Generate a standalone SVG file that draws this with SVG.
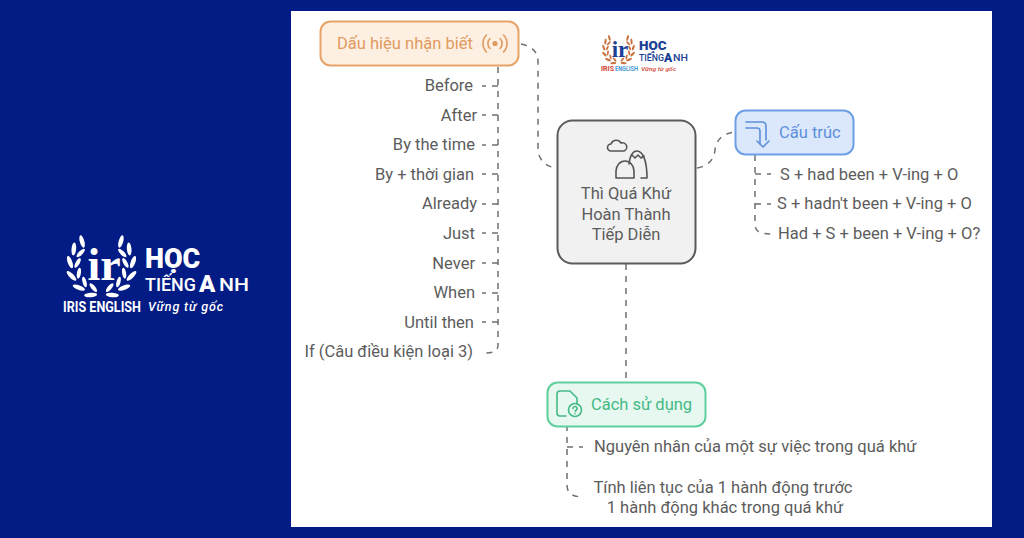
<svg xmlns="http://www.w3.org/2000/svg" width="1024" height="538" viewBox="0 0 1024 538">
<style>
text{font-family:Roboto,"Liberation Sans",sans-serif}
.t{font-size:16.5px;fill:#5c5c5c}
.e{text-anchor:end}
.m{text-anchor:middle}
.c{fill:none;stroke:#6f6f6f;stroke-width:1.5;stroke-dasharray:6 6}
.n{stroke-width:2}
.ic{fill:none;stroke-width:1.6;stroke-linecap:round;stroke-linejoin:round}
.lw{fill:#fff}
.lo{fill:#c9703c}
</style>
<defs>
<g id="laurel">
<ellipse cx="-10.900" cy="30" rx="2.300" ry="6.500" transform="rotate(-95 -10.900 30)"/>
<ellipse cx="-22.600" cy="22.600" rx="2.300" ry="6.500" transform="rotate(-70 -22.600 22.600)"/>
<ellipse cx="-30" cy="10.900" rx="2.300" ry="6.500" transform="rotate(-45 -30 10.900)"/>
<ellipse cx="-31.500" cy="-2.800" rx="2.300" ry="6.500" transform="rotate(-20 -31.500 -2.800)"/>
<ellipse cx="-27.700" cy="-16" rx="2.300" ry="6.500" transform="rotate(5 -27.700 -16)"/>
<ellipse cx="-19.400" cy="-23.500" rx="2.300" ry="6.500" transform="rotate(-15 -19.400 -23.500)"/>
<ellipse cx="-8.200" cy="22.600" rx="2" ry="5.500" transform="rotate(-40 -8.200 22.600)"/>
<ellipse cx="-17" cy="17" rx="2" ry="5.500" transform="rotate(-15 -17 17)"/>
<ellipse cx="-22.600" cy="8.200" rx="2" ry="5.500" transform="rotate(10 -22.600 8.200)"/>
<ellipse cx="-23.900" cy="-2.100" rx="2" ry="5.500" transform="rotate(30 -23.900 -2.100)"/>
<ellipse cx="-20.800" cy="-12" rx="2" ry="5.500" transform="rotate(45 -20.800 -12)"/>
</g>
</defs>
<rect width="1024" height="538" fill="#031b84"/>
<rect x="291" y="11" width="701" height="516" fill="#fff"/>

<g id="logo-left">
<g class="lw" transform="translate(101.500 265)"><use href="#laurel"/><use href="#laurel" transform="scale(-1 1)"/></g>
<text x="104" y="280" font-size="46" font-weight="700" text-anchor="middle" fill="#fff" style="font-family:'Liberation Serif',serif">ir</text>
<text x="145" y="268" font-size="27" font-weight="900" fill="#fff">HỌC</text>
<text x="145" y="291" font-size="18" font-weight="500" fill="#fff" textLength="51" lengthAdjust="spacingAndGlyphs">TIẾNG</text>
<text x="199" y="292" font-size="24" font-weight="900" fill="#fff">A</text>
<text x="219" y="291" font-size="18" font-weight="500" fill="#fff" textLength="30" lengthAdjust="spacingAndGlyphs">NH</text>
<text x="63" y="312" font-size="14" font-weight="700" fill="#fff" textLength="78" lengthAdjust="spacingAndGlyphs">IRIS ENGLISH</text>
<text x="148" y="311" font-size="12.500" font-weight="500" font-style="italic" fill="#fff" textLength="75">Vững từ gốc</text>
</g>

<g id="logo-top">
<g class="lo" transform="translate(618.500 49) scale(.47)"><use href="#laurel"/><use href="#laurel" transform="scale(-1 1)"/></g>
<text x="620" y="57" font-size="23" font-weight="700" text-anchor="middle" fill="#1c3f94" style="font-family:'Liberation Serif',serif">ir</text>
<text x="639" y="50" font-size="13.500" font-weight="900" fill="#1c3f94">HỌC</text>
<text x="639" y="61" font-size="9" font-weight="500" fill="#1c3f94" textLength="25" lengthAdjust="spacingAndGlyphs">TIẾNG</text>
<text x="664" y="62" font-size="12" font-weight="900" fill="#1c3f94">A</text>
<text x="673" y="61" font-size="9" font-weight="500" fill="#1c3f94" textLength="15" lengthAdjust="spacingAndGlyphs">NH</text>
<text x="601" y="71" font-size="6.500" font-weight="700" fill="#d2452f" textLength="13" lengthAdjust="spacingAndGlyphs">IRIS</text>
<text x="615" y="71" font-size="6.500" font-weight="700" fill="#4a9bd6" textLength="23" lengthAdjust="spacingAndGlyphs">ENGLISH</text>
<text x="641" y="71" font-size="6" font-weight="500" font-style="italic" fill="#d2452f" textLength="35" lengthAdjust="spacingAndGlyphs">Vững từ gốc</text>
</g>

<g id="connectors">
<path class="c" d="M521 44C532 46 538 52 538 62V148C538 160 546 167 557 168"/>
<path class="c" d="M697 168C708 166 714 160 715 150C716 140 723 133 735 132"/>
<path class="c" d="M626 264V381"/>
<path class="c" d="M498 67V345C498 352 492 353 484 353"/>
<path class="c" d="M498 86H482M498 115H482M498 145H482M498 174H482M498 204H482M498 233H482M498 263H482M498 293H482M498 322H482"/>
<path class="c" d="M755 155V224C755 232 760 234 772 234"/>
<path class="c" d="M755 174H771M755 204H771"/>
<path class="c" d="M567 425V485C567 494 573 497 584 497"/>
<path class="c" d="M567 447H583"/>
</g>

<g id="node-dau-hieu">
<rect class="n" x="320.500" y="21.500" width="198" height="44" rx="10" fill="#fdf0e3" stroke="#e8a468"/>
<text x="337" y="49" font-size="16.500" fill="#e09a5e">Dấu hiệu nhận biết</text>
<g class="ic" stroke="#e09a5e"><circle cx="495" cy="43.500" r="1.800" fill="#e09a5e"/><path d="M490 38.500a7 7 0 0 0 0 10M500 38.500a7 7 0 0 1 0 10M486.500 35a12 12 0 0 0 0 17M503.500 35a12 12 0 0 1 0 17"/></g>
</g>

<g id="node-center">
<rect x="557.500" y="120.500" width="138" height="143" rx="15" fill="#f1f1f1" stroke="#5a5a5a" stroke-width="2"/>
<g class="ic" stroke="#555"><path d="M611 151a3.500 3.500 0 0 1 0-7 5.500 5.500 0 0 1 10-1 4 4 0 0 1 3 8z"/><path d="M616 178v-7a9 10 0 0 1 18 0v7h-18zM629 164c1-8 4-13 8-13 6 0 10 10 10 27h-6"/><path d="M632 155l3 3 3-3 3 3 3-2"/></g>
<text class="t m" x="626" y="199">Thì Quá Khứ</text>
<text class="t m" x="626" y="220">Hoàn Thành</text>
<text class="t m" x="626" y="240">Tiếp Diễn</text>
</g>

<g id="node-cau-truc">
<rect class="n" x="735.500" y="110.500" width="118" height="44" rx="10" fill="#dbe8fb" stroke="#6d9fe6"/>
<g class="ic" stroke="#5c8fdc"><path d="M746 122h16c3 0 4 2 4 4v14"/><path d="M746 128h11c2 0 3 1 3 3v13"/><path d="M757 141l6 6 6-6"/></g>
<text x="779" y="138" font-size="16.500" fill="#5c8fdc">Cấu trúc</text>
</g>

<g id="node-cach-su-dung">
<rect class="n" x="547.500" y="382.500" width="158" height="44" rx="10" fill="#e6f8f0" stroke="#5fcf9c"/>
<g class="ic" stroke="#45b985"><path d="M566 416h-6c-2 0-3-1-3-3v-19c0-2 1-3 3-3h10l7 7v6"/><circle cx="575" cy="410" r="6.500"/><path d="M573 408.500a2 2 0 1 1 2.500 2v1M575 413.500v.1"/></g>
<text x="591" y="410" font-size="16.500" fill="#45b985">Cách sử dụng</text>
</g>

<g id="items-dau-hieu">
<text class="t e" x="473" y="91">Before</text>
<text class="t e" x="477" y="121">After</text>
<text class="t e" x="475" y="150">By the time</text>
<text class="t e" x="474" y="180">By + thời gian</text>
<text class="t e" x="477" y="209">Already</text>
<text class="t e" x="475" y="239">Just</text>
<text class="t e" x="475" y="269">Never</text>
<text class="t e" x="475" y="298">When</text>
<text class="t e" x="474" y="328">Until then</text>
<text class="t e" x="473" y="357">If (Câu điều kiện loại 3)</text>
</g>

<g id="items-cau-truc">
<text class="t" x="780" y="180">S + had been + V-ing + O</text>
<text class="t" x="777" y="209">S + hadn't been + V-ing + O</text>
<text class="t" x="778" y="239">Had + S + been + V-ing + O?</text>
</g>

<g id="items-cach-su-dung">
<text class="t" x="594" y="452">Nguyên nhân của một sự việc trong quá khứ</text>
<text class="t m" x="723" y="493">Tính liên tục của 1 hành động trước</text>
<text class="t m" x="725" y="513">1 hành động khác trong quá khứ</text>
</g>
</svg>
